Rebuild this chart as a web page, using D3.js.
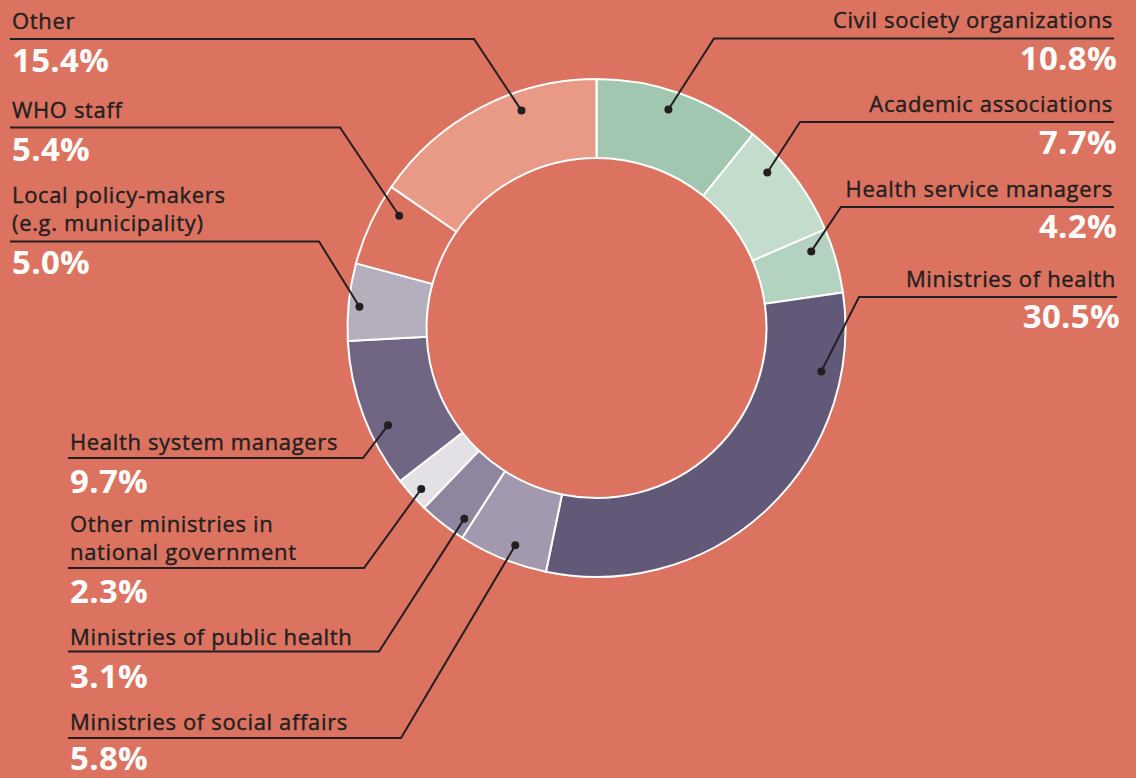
<!DOCTYPE html>
<html>
<head>
<meta charset="utf-8">
<script src="https://cdn.jsdelivr.net/npm/d3@7"></script>
<style>
  html, body { margin: 0; padding: 0; background: #dc7360; }
  svg { display: block; }
</style>
</head>
<body>
<svg id="chart" width="1136" height="778"></svg>
<script>
// Respondent groups, clockwise from 12 o'clock
const categories = [
  "Civil society organizations",
  "Academic associations",
  "Health service managers",
  "Ministries of health",
  "Ministries of social affairs",
  "Ministries of public health",
  "Other ministries in national government",
  "Health system managers",
  "Local policy-makers (e.g. municipality)",
  "WHO staff",
  "Other"
];

// Share of respondents, %
const shares = [10.8, 7.7, 4.2, 30.5, 5.8, 3.1, 2.3, 9.7, 5.0, 5.4, 15.4];

// Label text, split into drawn lines
const labelLines = [
  ["Civil society organizations"],
  ["Academic associations"],
  ["Health service managers"],
  ["Ministries of health"],
  ["Ministries of social affairs"],
  ["Ministries of public health"],
  ["Other ministries in", "national government"],
  ["Health system managers"],
  ["Local policy-makers", "(e.g. municipality)"],
  ["WHO staff"],
  ["Other"]
];

const sliceColours = [
  "#a2c7b0", "#c4dccb", "#b3d2bf", "#625979",
  "#a399ae", "#8f859e", "#e3e1e6", "#706583",
  "#b5aebd", "#dc7360", "#e89a87"
];

// Callout layout: text side, anchor x, label baselines, rule y, elbow x, value baseline,
// and where the pointer dot sits inside its slice (fraction of arc, radius)
const callouts = [
  { side: "right", x: 1113, ys: [28],       rule: 38.5, elbow: 714, value: 70,  end: 1114, t: 0.468, r: 230 },
  { side: "right", x: 1113, ys: [112],      rule: 122,  elbow: 800, value: 154, end: 1114, t: 0.316, r: 231 },
  { side: "right", x: 1113, ys: [197],      rule: 207,  elbow: 841, value: 238, end: 1114, t: 0.245, r: 228 },
  { side: "right", x: 1116, ys: [287],      rule: 297,  elbow: 859, value: 328, end: 1117, t: 0.174, r: 229 },
  { side: "left",  x: 70,   ys: [730],      rule: 738,  elbow: 401, value: 770, end: 68,   t: 0.42,  r: 232 },
  { side: "left",  x: 70,   ys: [645],      rule: 651.5,elbow: 379, value: 688, end: 68,   t: 0.19,  r: 232 },
  { side: "left",  x: 70,   ys: [532, 560], rule: 568,  elbow: 364, value: 603, end: 68,   t: 0.44,  r: 238 },
  { side: "left",  x: 70,   ys: [450],      rule: 458,  elbow: 363, value: 493, end: 68,   t: 0.37,  r: 230 },
  { side: "left",  x: 12,   ys: [203, 231], rule: 241.5,elbow: 319, value: 274, end: 10,   t: 0.45,  r: 238 },
  { side: "left",  x: 12,   ys: [118],      rule: 127.5,elbow: 340, value: 161, end: 10,   t: 0.75,  r: 227 },
  { side: "left",  x: 12,   ys: [29],       rule: 39,   elbow: 474, value: 72,  end: 10,   t: 0.657, r: 230 }
];

const W = 1136, H = 778;
const cx = 596.5, cy = 328;
const outerR = 249, innerR = 170;
const ink = "#231f20";
const font = "'Open Sans', 'Noto Sans', sans-serif";

const svg = d3.select("#chart");
svg.append("rect").attr("width", W).attr("height", H).attr("fill", "#dc7360");

const pie = d3.pie().sort(null).value(d => d);
const arcs = pie(shares);
const arc = d3.arc().innerRadius(innerR).outerRadius(outerR);

const ring = svg.append("g").attr("transform", `translate(${cx},${cy})`);

ring.selectAll("path.slice")
  .data(arcs)
  .join("path")
  .attr("class", "slice")
  .attr("d", arc)
  .attr("fill", (d, i) => sliceColours[i])
  .attr("stroke", "#ffffff")
  .attr("stroke-width", 2)
  .attr("stroke-linejoin", "miter");

// Pointer anchor inside each slice
function dotPoint(d, i) {
  const c = callouts[i];
  const a = d.startAngle + (d.endAngle - d.startAngle) * c.t;
  return [cx + c.r * Math.sin(a), cy - c.r * Math.cos(a)];
}

const leaders = svg.append("g");
arcs.forEach((d, i) => {
  const c = callouts[i];
  const [px, py] = dotPoint(d, i);
  const path = d3.path();
  path.moveTo(c.end, c.rule);
  path.lineTo(c.elbow, c.rule);
  path.lineTo(px, py);
  leaders.append("path")
    .attr("d", path.toString())
    .attr("fill", "none")
    .attr("stroke", ink)
    .attr("stroke-width", 2);
  leaders.append("circle")
    .attr("cx", px).attr("cy", py).attr("r", 4)
    .attr("fill", ink);
});

const labels = svg.append("g").attr("font-family", font);
arcs.forEach((d, i) => {
  const c = callouts[i];
  const anchor = c.side === "right" ? "end" : "start";
  labelLines[i].forEach((line, k) => {
    labels.append("text")
      .attr("x", c.x).attr("y", c.ys[k])
      .attr("text-anchor", anchor)
      .attr("font-size", 22)
      .attr("letter-spacing", 0.65)
      .attr("fill", ink)
      .attr("stroke", ink)
      .attr("stroke-width", 0.4)
      .text(line);
  });
  labels.append("text")
    .attr("x", c.side === "right" ? c.x + 4 : c.x)
    .attr("y", c.value)
    .attr("text-anchor", anchor)
    .attr("font-size", 33)
    .attr("font-weight", 700)
    .attr("letter-spacing", 0.3)
    .attr("fill", "#ffffff")
    .text(d3.format(".1f")(d.data) + "%");
});
</script>
</body>
</html>
